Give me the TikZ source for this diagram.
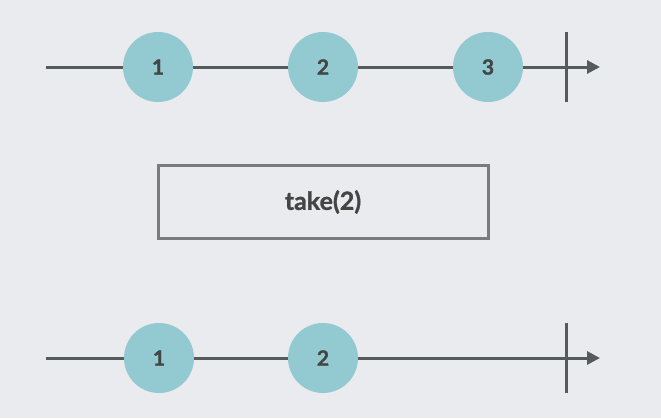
\documentclass[tikz,border=0pt]{standalone}
\usepackage{fontspec}
\setmainfont{Lato}[BoldFeatures={FakeBold=1.2}]
\usetikzlibrary{arrows.meta,positioning}
\definecolor{bgc}{HTML}{E9EBEE}
\definecolor{marble}{HTML}{93C9D1}
\definecolor{axis}{HTML}{555A5A}
\definecolor{boxline}{HTML}{797B7C}
\definecolor{txt}{HTML}{444646}
\begin{document}
\begin{tikzpicture}[x=1pt, y=-1pt, font=\bfseries,
  tl/.style={draw=axis, line width=3pt},
  arr/.style={tl, -{Triangle[length=13pt, width=13pt]}},
  ball/.style={circle, fill=marble, minimum size=70pt, inner sep=0pt, text=txt, font=\fontsize{21}{22}\selectfont\bfseries},
  op/.style={draw=boxline, line width=3pt, minimum width=330pt, minimum height=73pt, inner sep=0pt, text=txt, font=\fontsize{25}{27}\selectfont\bfseries}]
  \fill[bgc] (0,0) rectangle (661,418);
  \useasboundingbox (0,0) rectangle (661,418);
  % source stream
  \coordinate (s0) at (46,67);
  \coordinate (s1) at (600,67);
  \coordinate (sa) at (566,32);
  \coordinate (sb) at (566,102);
  \draw[arr] (s0) -- (s1);
  \draw[tl] (sa) -- (sb);
  \node[ball] (a1) at (158,67) {1};
  \node[ball] (a2) at (323,67) {2};
  \node[ball] (a3) at (488,67) {3};
  % operator
  \node[op] (tk) at (323,202) {take(2)};
  % result stream
  \coordinate (r0) at (46,358);
  \coordinate (r1) at (600,358);
  \coordinate (ra) at (566,323);
  \coordinate (rb) at (566,393);
  \draw[arr] (r0) -- (r1);
  \draw[tl] (ra) -- (rb);
  \node[ball] (b1) at (159,358) {1};
  \node[ball] (b2) at (323,358) {2};
\end{tikzpicture}
\end{document}
